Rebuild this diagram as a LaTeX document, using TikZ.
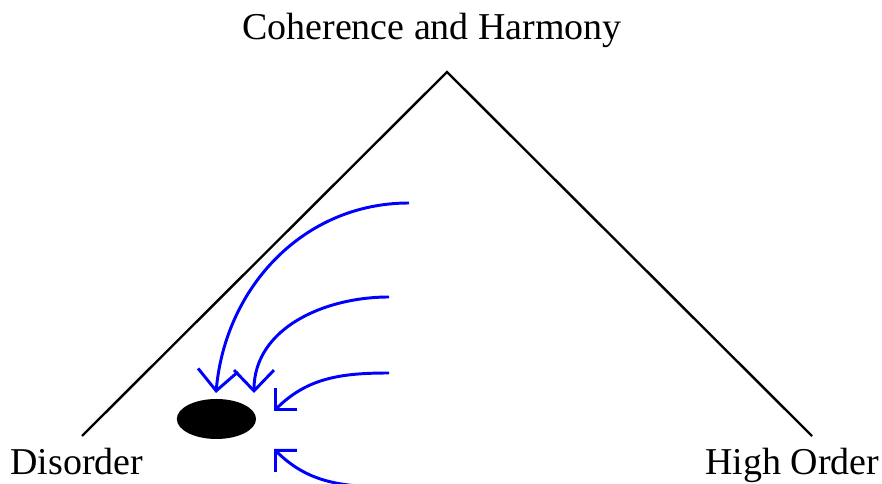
\documentclass[tikz,border=0pt]{standalone}
\usepackage{fontspec}
\setmainfont{Liberation Serif}
\usetikzlibrary{arrows.meta,shapes.geometric,positioning}

\begin{document}
\begin{tikzpicture}[
  word/.style={inner sep=0pt, anchor=base,
    font=\fontsize{27}{32}\selectfont},
  side/.style={line width=1.7pt, black},
  pull/.style={line width=2.1pt, blue,
    -{Straight Barb[length=0.52cm,width=1cm]}},
  nudge/.style={line width=2.1pt, blue,
    -{Straight Barb[length=0.38cm,width=0.76cm]}}
]
\clip (0,0) rectangle (22.05,12.1);

% the peak and its two feet
\coordinate (apex)  at (11.175,10.3);
\coordinate (footl) at (2.05,1.2);
\coordinate (footr) at (20.3,1.2);
\draw[side] (footl) -- (apex) -- (footr);

\node[word] (top)  at (10.8,11.1)  {Coherence and Harmony};
\node[word] (dis)  at (1.92,0.225) {Disorder};
\node[word] (high) at (19.81,0.225) {High Order};

\node[ellipse, fill=black, minimum width=1.98cm,
  minimum height=1cm, inner sep=0pt] (blob) at (5.41,1.625) {};

% where the pulls start and end
\coordinate (s1) at (10.225,7.025);
\coordinate (s2) at (9.725,4.675);
\coordinate (s3) at (9.725,2.775);
\coordinate (s4) at (9.725,-0.075);
\coordinate (t1) at (5.4,2.275);
\coordinate (t2) at (6.35,2.275);
\coordinate (t3) at (6.85,1.825);
\coordinate (t4) at (6.85,0.875);

\foreach \s/\t/\a in {s1/t1/85,s2/t2/90}{
  \draw[pull] (\s) to[out=180,in=\a] (\t);
}
\draw[nudge] (s3) to[out=180,in=45] (t3);
\draw[nudge] (s4) to[out=180,in=-45] (t4);
\end{tikzpicture}
\end{document}
